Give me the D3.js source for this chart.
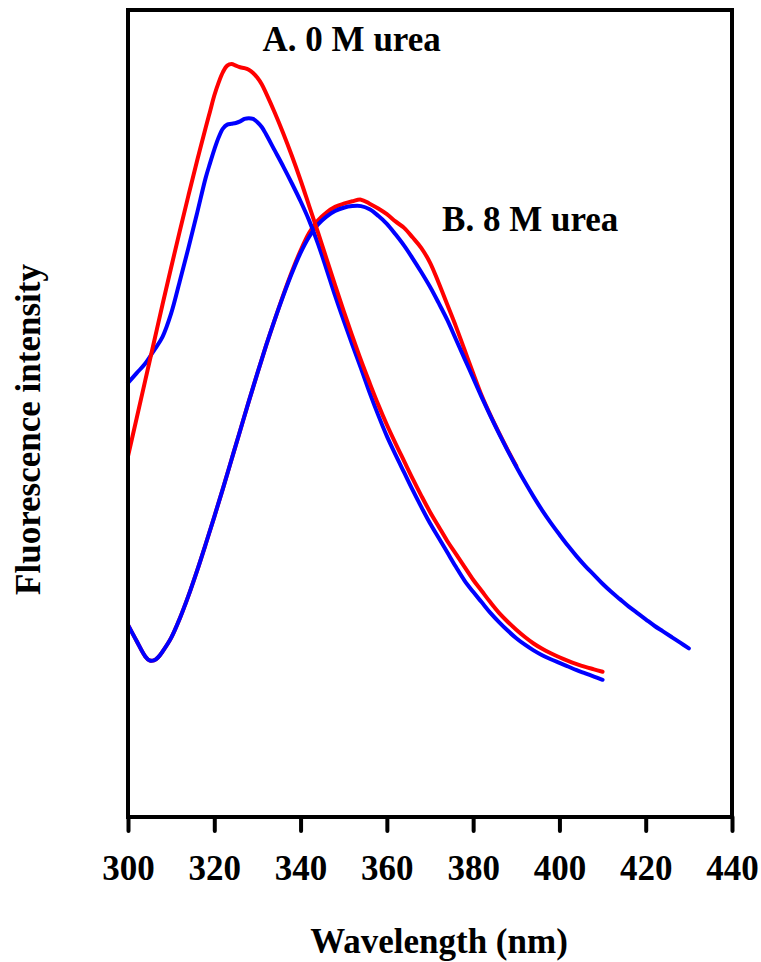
<!DOCTYPE html>
<html>
<head>
<meta charset="utf-8">
<script src="https://cdn.jsdelivr.net/npm/d3@7"></script>
<style>
  body { margin: 0; background: #fff; }
  text { font-family: "Liberation Serif", "Times New Roman", serif; font-weight: bold; }
</style>
</head>
<body>
<svg id="chart"></svg>
<script>
// wavelength (nm) and relative intensity
const wlA = [300, 302, 304, 306, 308, 310, 312, 314, 316, 318, 319, 320, 321, 322, 323, 324, 325, 326, 327, 328, 329, 330,
  331, 332, 334, 336, 338, 340, 342, 344, 346, 348, 350, 352, 354, 356, 358, 360, 362, 364, 366, 368, 370, 372, 374, 376,
  378, 380, 382, 384, 386, 388, 390, 392, 394, 396, 398, 400, 402, 404, 406, 408, 410]
const redA = [44.7, 49.4, 54.1, 58.8, 63.5, 68.1, 72.6, 77.0, 81.3, 85.4, 87.4, 89.4, 91.0, 92.3, 93.1, 93.3, 93.1, 92.9, 92.8, 92.6, 92.2, 91.6,
  90.8, 89.7, 87.3, 84.7, 81.9, 78.9, 75.7, 72.5, 69.2, 65.9, 62.7, 59.6, 56.6, 53.8, 51.1, 48.6, 46.3, 44.1, 41.9, 39.8, 37.8, 36.0, 34.2, 32.6,
  31.0, 29.4, 28.0, 26.6, 25.3, 24.2, 23.2, 22.3, 21.5, 20.85, 20.3, 19.8, 19.35, 18.95, 18.6, 18.3, 18.0]
const blueA = [53.8, 55.0, 56.2, 57.8, 59.5, 62.4, 66.4, 70.5, 74.8, 79.2, 81.0, 82.7, 84.2, 85.3, 85.8, 85.9, 86.0, 86.2, 86.5, 86.6, 86.5, 86.1,
  85.5, 84.6, 82.6, 80.6, 78.5, 76.3, 73.9, 71.1, 67.9, 64.6, 61.5, 58.5, 55.6, 52.6, 49.8, 47.2, 44.9, 42.7, 40.5, 38.4, 36.4, 34.6, 32.8, 31.0,
  29.3, 27.9, 26.6, 25.3, 24.15, 23.1, 22.15, 21.35, 20.65, 20.05, 19.55, 19.1, 18.65, 18.2, 17.8, 17.4, 17.0]

const wlB = [300, 302, 304, 305, 306, 307, 308, 310, 312, 314, 316, 318, 320, 322, 324, 326, 328, 330, 332, 334, 336, 338, 340,
  342, 344, 346, 348, 350, 352, 354, 356, 358, 360, 362, 364, 366, 368, 370, 372, 374, 376, 378, 380, 382, 384, 386, 388, 390,
  392, 394, 396, 398, 400, 402, 404, 406, 408, 410, 412, 414, 416, 418, 420, 422, 424, 426, 428, 430]
const blueB = [23.8, 21.8, 19.9, 19.4, 19.4, 19.8, 20.5, 22.2, 24.6, 27.4, 30.5, 33.8, 37.2, 40.7, 44.3, 47.9, 51.5, 55.0, 58.4, 61.6, 64.6, 67.4, 69.9,
  71.9, 73.4, 74.4, 75.1, 75.5, 75.7, 75.7, 75.3, 74.5, 73.5, 72.2, 70.8, 69.2, 67.5, 65.7, 63.7, 61.6, 59.2, 56.8, 54.4, 52.0, 49.7, 47.5, 45.4, 43.4,
  41.5, 39.7, 38.0, 36.45, 35.0, 33.6, 32.3, 31.1, 30.0, 28.9, 27.9, 27.0, 26.1, 25.3, 24.5, 23.7, 23.0, 22.3, 21.6, 20.9]
// red B is hidden under blue B outside the peak, ends near 390 nm
const redB = [23.8, 21.8, 19.9, 19.4, 19.4, 19.8, 20.5, 22.2, 24.6, 27.4, 30.5, 33.8, 37.2, 40.7, 44.3, 47.9, 51.5, 55.0, 58.4, 61.6, 64.7, 67.6, 70.2,
  72.4, 73.9, 74.9, 75.6, 76.0, 76.3, 76.5, 76.0, 75.4, 74.7, 73.8, 73.0, 71.8, 70.5, 68.7, 66.2, 63.5, 60.8, 57.9, 55.0, 52.2, 49.8, 47.6, 45.5, 43.5]

const xTicks = [300, 320, 340, 360, 380, 400, 420, 440]
const labels = [
  {text: 'A. 0 M urea', wl: 331.2, v: 94.9},
  {text: 'B. 8 M urea', wl: 372.8, v: 72.6}
]

const W = 761, H = 962
const margin = {top: 10, right: 29, bottom: 145, left: 128}

const svg = d3.select('#chart').attr('width', W).attr('height', H)

const x = d3.scaleLinear().domain([300, 440]).range([margin.left, W - margin.right])
const y = d3.scaleLinear().domain([0, 100]).range([H - margin.bottom, margin.top])

const line = d3.line()
  .x(d => x(d[0]))
  .y(d => y(d[1]))
  .curve(d3.curveCatmullRom.alpha(0.5))

// draw order: red under blue for B, red over blue for A
const series = [
  {wl: wlB, v: redB, color: '#ff0000'},
  {wl: wlB, v: blueB, color: '#0000ff'},
  {wl: wlA, v: blueA, color: '#0000ff'},
  {wl: wlA, v: redA, color: '#ff0000'}
]

svg.append('g')
  .selectAll('path')
  .data(series)
  .join('path')
    .attr('d', s => line(s.v.map((v, i) => [s.wl[i], v])))
    .attr('fill', 'none')
    .attr('stroke', s => s.color)
    .attr('stroke-width', 4)
    .attr('stroke-linejoin', 'round')
    .attr('stroke-linecap', 'round')

// frame
svg.append('rect')
  .attr('x', x(300))
  .attr('y', y(100))
  .attr('width', x(440) - x(300))
  .attr('height', y(0) - y(100))
  .attr('fill', 'none')
  .attr('stroke', '#000')
  .attr('stroke-width', 4)

// x axis ticks
const xAxis = svg.append('g')
  .attr('transform', `translate(0,${y(0)})`)
  .call(d3.axisBottom(x).tickValues(xTicks).tickSizeInner(14).tickSizeOuter(0).tickPadding(24).tickFormat(d3.format('d')))
xAxis.select('.domain').remove()
xAxis.selectAll('.tick line')
  .attr('stroke', '#000')
  .attr('stroke-width', 4)
  .attr('stroke-linecap', 'round')
xAxis.selectAll('.tick text')
  .attr('fill', '#000')
  .attr('font-size', 35)
  .attr('font-family', '"Liberation Serif", serif')
  .attr('font-weight', 'bold')

// annotations
svg.append('g')
  .selectAll('text')
  .data(labels)
  .join('text')
    .attr('x', d => x(d.wl))
    .attr('y', d => y(d.v))
    .attr('font-size', 35)
    .text(d => d.text)

// axis titles
svg.append('text')
  .attr('x', (x(300) + x(440)) / 2 + 9)
  .attr('y', 953)
  .attr('text-anchor', 'middle')
  .attr('font-size', 35)
  .text('Wavelength (nm)')

svg.append('text')
  .attr('transform', `translate(40,${(y(0) + y(100)) / 2 + 16}) rotate(-90)`)
  .attr('text-anchor', 'middle')
  .attr('font-size', 35)
  .text('Fluorescence intensity')
</script>
</body>
</html>
